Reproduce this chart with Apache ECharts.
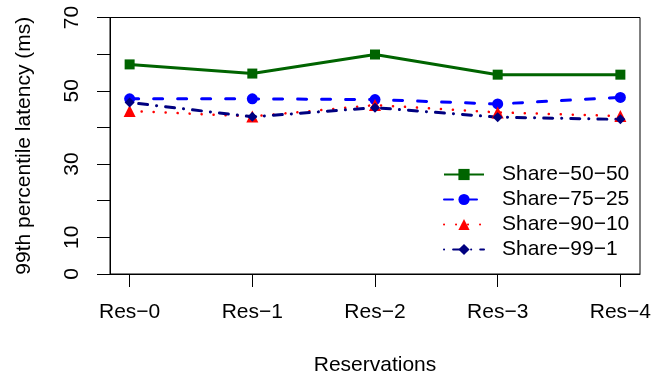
<!DOCTYPE html>
<html>
<head>
<meta charset="utf-8">
<script src="https://cdn.jsdelivr.net/npm/echarts@6/dist/echarts.min.js"></script>
<style>
  html, body { margin: 0; padding: 0; background: #fff; }
  #chart { width: 663px; height: 375px; }
</style>
</head>
<body>
<div id="chart"></div>
<script>
// Reservation configurations along the x axis
const categories = ['Res\u22120', 'Res\u22121', 'Res\u22122', 'Res\u22123', 'Res\u22124'];

// 99th percentile latency (ms) for each share split
const share5050 = [57.2, 54.7, 59.9, 54.4, 54.4];
const share7525 = [47.8, 47.8, 47.6, 46.4, 48.2];
const share9010 = [44.5, 43.0, 46.1, 44.1, 43.1];
const share991  = [46.8, 42.9, 45.4, 42.8, 42.2];

// Which y values get a printed label (ticks are every 10)
const yTickLabels = [0, 10, 30, 50, 70];

const FONT = '"Liberation Sans", Arial, Helvetica, sans-serif';
const FS = 21;

function pts(values) {
  return values.map((v, i) => [i, v]);
}

const chart = echarts.init(document.getElementById('chart'), null, { renderer: 'canvas' });

const seriesDefs = [
  { name: 'Share\u221250\u221250', data: share5050, color: '#006400', symbol: 'rect', size: 10,
    line: { width: 3, type: 'solid' } },
  { name: 'Share\u221275\u221225', data: share7525, color: '#0000FF', symbol: 'circle', size: 11,
    line: { width: 3, type: [9, 15], cap: 'round' } },
  { name: 'Share\u221290\u221210', data: share9010, color: '#FF0000', symbol: 'triangle', size: 12,
    line: { width: 2.5, type: [0.1, 11.9], cap: 'round' } },
  { name: 'Share\u221299\u22121', data: share991, color: '#000080', symbol: 'diamond', size: 10,
    line: { width: 3, type: [0.1, 9, 9, 9], cap: 'round' } }
];

const option = {
  animation: false,
  backgroundColor: '#ffffff',
  textStyle: { fontFamily: FONT, color: '#000' },
  grid: {
    left: 110, right: 23, top: 17.5, bottom: 101,
    containLabel: false,
    outerBoundsMode: 'none',
    show: true, borderColor: '#000', borderWidth: 1, backgroundColor: 'transparent'
  },
  legend: {
    orient: 'vertical',
    left: 443,
    top: 164,
    padding: 0,
    itemWidth: 40,
    itemHeight: 14,
    itemGap: 4,
    textStyle: { fontFamily: FONT, fontSize: FS, color: '#000', lineHeight: 21, padding: [0, 0, 0, 13] },
    data: seriesDefs.map(s => s.name)
  },
  xAxis: {
    type: 'value',
    min: -0.16,
    max: 4.16,
    name: 'Reservations',
    nameLocation: 'middle',
    nameGap: 81,
    nameTextStyle: { fontFamily: FONT, fontSize: FS, color: '#000' },
    splitLine: { show: false },
    axisLine: { show: true, onZero: false, lineStyle: { color: '#000', width: 1 } },
    axisTick: { show: true, inside: false, length: 13, lineStyle: { color: '#000', width: 1 },
      customValues: categories.map((c, i) => i) },
    axisLabel: {
      fontFamily: FONT, fontSize: FS, color: '#000', margin: 28,
      customValues: categories.map((c, i) => i),
      formatter: v => categories[Math.round(v)] || ''
    }
  },
  yAxis: {
    type: 'value',
    min: 0,
    max: 70,
    interval: 10,
    name: '99th percentile latency (ms)',
    nameLocation: 'middle',
    nameGap: 75,
    nameTextStyle: { fontFamily: FONT, fontSize: FS, color: '#000' },
    splitLine: { show: false },
    axisLine: { show: true, onZero: false, lineStyle: { color: '#000', width: 1 } },
    axisTick: { show: true, inside: false, length: 13, lineStyle: { color: '#000', width: 1 } },
    axisLabel: {
      fontFamily: FONT, fontSize: FS, color: '#000', margin: 27, rotate: 90,
      showMinLabel: true, showMaxLabel: true,
      formatter: v => (yTickLabels.indexOf(v) >= 0 ? String(v) : '')
    }
  },
  series: seriesDefs.map(s => ({
    name: s.name,
    type: 'line',
    data: pts(s.data),
    symbol: s.symbol,
    symbolSize: s.size,
    showSymbol: true,
    color: s.color,
    itemStyle: { color: s.color },
    lineStyle: Object.assign({ color: s.color }, s.line),
    emphasis: { disabled: true }
  }))
};

chart.setOption(option);
</script>
</body>
</html>
